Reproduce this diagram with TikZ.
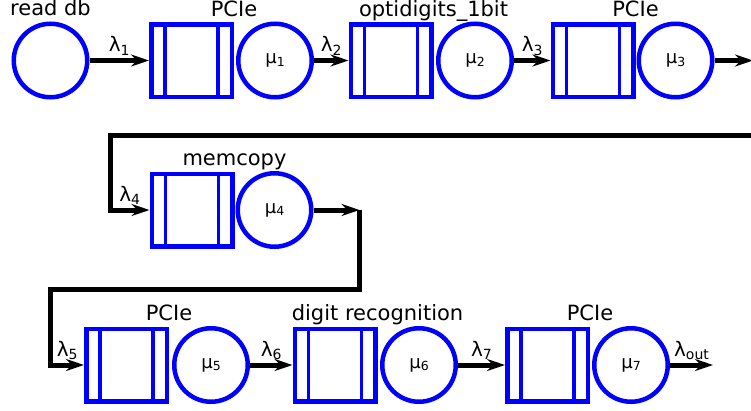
\documentclass[tikz,border=0pt]{standalone}
\usepackage{fontspec}
\setmainfont{DejaVu Sans}
\usetikzlibrary{arrows.meta}
\definecolor{qblue}{RGB}{0,0,255}

% arrival rate and service rate labels
\newcommand\lam[1]{{\fontsize{20}{20}\selectfont λ\raisebox{-3.5pt}{\fontsize{14}{14}\selectfont #1}}}
\newcommand\srv[1]{{\fontsize{18}{18}\selectfont μ\raisebox{-2.5pt}{\fontsize{12.5}{12.5}\selectfont #1}}}

\tikzset{
  queuebox/.style={draw=qblue, line width=4.5pt, rectangle, minimum width=80.5pt,
    minimum height=72.5pt, inner sep=0pt},
  server/.style={draw=qblue, line width=4.5pt, circle, minimum size=73.5pt, inner sep=0pt},
  divider/.style={qblue, line width=3.5pt},
  wire/.style={black, line width=5pt},
  flow/.style={wire, -{Stealth[length=18pt,width=12pt,inset=6pt]}},
  tag/.style={anchor=base, inner sep=0pt, font=\fontsize{21}{24}\selectfont},
  rate/.style={anchor=base, inner sep=0pt, yshift=9pt},
}

\begin{document}
\begin{tikzpicture}[x=1pt, y=-1pt]
\useasboundingbox (0,0) rectangle (751,410);
\clip (0,0) rectangle (751,410);

% source
\node[server] (r) at (50.5,60.5) {};

% stations: queue + server
\node[queuebox] (q1) at (191.5,60.5) {};
\node[server]   (s1) at (275,60.5)   {\srv{1}};
\node[queuebox] (q2) at (391,60.5)   {};
\node[server]   (s2) at (475,60.5)   {\srv{2}};
\node[queuebox] (q3) at (593,60.5)   {};
\node[server]   (s3) at (675.5,60.5) {\srv{3}};
\node[queuebox] (q4) at (192,210)    {};
\node[server]   (s4) at (274.5,210)  {\srv{4}};
\node[queuebox] (q5) at (126.5,365)  {};
\node[server]   (s5) at (211,365)    {\srv{5}};
\node[queuebox] (q6) at (335,365)    {};
\node[server]   (s6) at (419,365)    {\srv{6}};
\node[queuebox] (q7) at (547.5,365)  {};
\node[server]   (s7) at (631,365)    {\srv{7}};

% queue dividers
\foreach \i in {1,...,7}{
  \draw[divider] ([xshift=16pt]q\i.north west) -- ([xshift=16pt]q\i.south west);
  \draw[divider] ([xshift=-16pt]q\i.north east) -- ([xshift=-16pt]q\i.south east);
}

% titles
\node[tag] (tr) at ([yshift=6pt]r.north)      {read db};
\node[tag] (t1) at ([yshift=6pt]q1.north east) {PCIe};
\node[tag] (t2) at ([yshift=6pt]q2.north east) {optidigits\_1bit};
\node[tag] (t3) at ([yshift=6pt]q3.north east) {PCIe};
\node[tag] (t4) at ([yshift=6pt]q4.north east) {memcopy};
\node[tag] (t5) at ([yshift=6pt]q5.north east) {PCIe};
\node[tag] (t6) at ([yshift=6pt]q6.north east) {digit recognition};
\node[tag] (t7) at ([yshift=6pt]q7.north east) {PCIe};

% first row
\draw[flow] (r)  -- (q1) node[midway, rate] {\lam{1}};
\draw[flow] (s1) -- (q2) node[midway, rate] {\lam{2}};
\draw[flow] (s2) -- (q3) node[midway, rate] {\lam{3}};

% wrap to second row
\coordinate (e1) at (753,60.5);
\coordinate (t1c) at (753,135.5);
\coordinate (b1) at (110,135.5);
\draw[flow] (s3) -- (e1);
\draw[flow] (e1) -- (t1c) -- (b1) |- (q4) node[pos=0.75, rate] {\lam{4}};

% wrap to third row
\coordinate (e2) at (359.5,210);
\coordinate (b2) at (50.5,289.5);
\draw[flow] (s4) -- (e2);
\draw[flow] (e2) |- (b2) |- (q5) node[pos=0.75, rate] {\lam{5}};

% third row
\draw[flow] (s5) -- (q6) node[midway, rate] {\lam{6}};
\draw[flow] (s6) -- (q7) node[midway, rate] {\lam{7}};
\coordinate (sink) at (713,365);
\draw[flow] (s7) -- (sink) node[midway, rate] {\lam{out}};
\end{tikzpicture}
\end{document}
